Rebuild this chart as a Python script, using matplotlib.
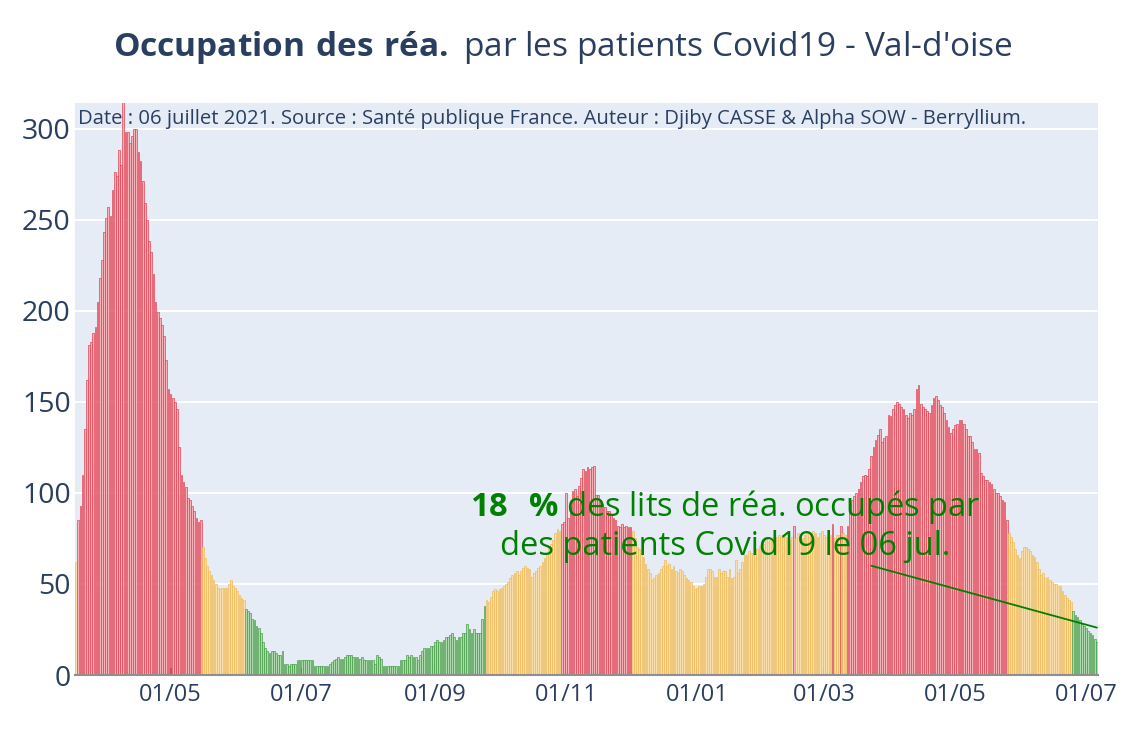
import pandas as pd
import matplotlib.pyplot as plt
import matplotlib.dates as mdates

# daily ICU occupancy, Val-d'Oise, from 18 March 2020 to 06 July 2021
start_date = "2020-03-18"
wave1 = [62, 85, 93, 110, 135, 162, 181, 183, 188, 191,
         205, 218, 228, 243, 251, 257, 252, 266, 276, 274,
         288, 280, 318, 298, 298, 292, 296, 300, 300, 287,
         282, 271, 259, 250, 238, 232, 220, 205, 199, 196,
         192, 186, 173, 157, 154, 152, 150, 146, 125, 110,
         106, 103, 97, 96, 93, 90, 86, 84, 85]
spring2020 = [70, 64, 60, 57, 55, 52, 50, 48, 47, 48, 48, 48, 50, 52, 49, 48, 46, 44, 42, 41]
summer2020 = [36, 35, 34, 31, 30, 27, 26, 23, 18, 15,
              13, 12, 13, 13, 12, 11, 11, 13, 6, 6,
              5, 6, 6, 6, 8, 8, 8, 8, 8, 8,
              8, 8, 5, 5, 5, 5, 5, 5, 5, 6,
              7, 8, 9, 10, 9, 9, 10, 11, 11, 11,
              10, 10, 10, 9, 10, 8, 8, 8, 8, 8,
              6, 11, 10, 9, 5, 5, 5, 5, 5, 5,
              5, 5, 8, 8, 8, 11, 10, 11, 10, 10,
              8, 11, 13, 15, 15, 15, 16, 16, 18, 19,
              18, 18, 19, 21, 21, 22, 23, 21, 19, 21,
              21, 23, 23, 28, 25, 23, 25, 23, 23, 23,
              31, 38]
autumn2020 = [41, 40, 43, 46, 47, 46, 47, 48, 49, 50, 51, 53, 55, 56, 57, 55, 57, 59,
              60, 59, 58, 54, 56, 57, 59, 60, 62, 64, 67, 70, 72, 74, 78, 80, 79]
wave2 = [83, 84, 100, 86, 93, 101, 102, 98, 104, 108, 113, 112, 114, 113, 114, 115, 99,
         99, 96, 94, 92, 90, 90, 88, 86, 85, 82, 81, 83, 81, 82, 81, 81]
winter2020 = [79, 75, 70, 69, 67, 65, 61, 58, 56, 52, 53, 55, 56, 58, 60, 63,
              60, 61, 58, 60, 57, 56, 58, 57, 55, 53, 52, 51, 49, 47, 48, 49]
winter2021 = [49, 50, 54, 58, 58, 57, 54, 54, 58, 56,
              57, 57, 54, 58, 53, 54, 63, 56, 58, 62,
              66, 66, 68, 67, 66, 69, 69, 71, 71, 72,
              75, 73, 74, 76, 76, 76, 77, 76, 77, 76, 75, 74, 76,
              82,
              75, 78, 76, 75, 77, 78, 76, 77, 79, 78, 76, 78, 79, 77, 76, 76, 77,
              83, 75, 77, 77, 82, 78, 77, 82]
wave3 = [94, 96, 98, 100, 102, 106, 109, 110, 109, 113,
         120, 125, 129, 132, 135, 128, 130, 131, 143, 142,
         146, 148, 150, 149, 147, 146, 143, 141, 144, 143,
         146, 157, 159, 149, 147, 146, 145, 144, 148, 152,
         153, 151, 148, 147, 144, 140, 136, 133, 135, 137,
         138, 140, 140, 138, 135, 131, 131, 128, 124, 124,
         122, 111, 109, 107, 107, 106, 105, 102, 100, 100,
         98, 96, 95, 85]
spring2021 = [78, 76, 73, 69, 66, 64, 68, 70, 70, 69, 68, 66, 65, 62, 58, 55, 56, 53,
              54, 52, 51, 50, 50, 49, 49, 46, 44, 42, 41, 40]
summer2021 = [35, 33, 32, 30, 28, 27, 26, 24, 23, 22, 20, 18]

arrow_value = 26
pct_last = 18
tick_dates = ["2020-05-01", "2020-07-01", "2020-09-01", "2020-11-01",
              "2021-01-01", "2021-03-01", "2021-05-01", "2021-07-01"]

values = (wave1 + spring2020 + summer2020 + autumn2020 + wave2 + winter2020
          + winter2021 + wave3 + spring2021 + summer2021)
dates = pd.date_range(start_date, periods=len(values), freq="D")

# colour levels
RED_MIN = 81
GREEN_MAX = 38
fills, edges = [], []
for v in values:
    if v >= RED_MIN:
        fills.append("#f7b3ba"); edges.append("#e03445")
    elif v > GREEN_MAX:
        fills.append("#f9dfae"); edges.append("#f0b64c")
    else:
        fills.append("#afd9af"); edges.append("#3b983b")

plt.rcParams["font.family"] = ["Open Sans", "DejaVu Sans"]
plt.rcParams["mathtext.fontset"] = "custom"
plt.rcParams["mathtext.rm"] = "Open Sans"
plt.rcParams["mathtext.bf"] = "Open Sans:bold"
txt_color = "#2a3f5f"

fig = plt.figure(figsize=(11.25, 7.5), dpi=100)
ax = fig.add_axes([75 / 1125, 75 / 750, 1023 / 1125, 572 / 750])
ax.set_facecolor("#e5ecf6")

ax.bar(dates, values, width=0.8, color=fills, edgecolor=edges, linewidth=0.45, zorder=2)

ax.set_xlim(dates[0] - pd.Timedelta(hours=12), dates[-1] + pd.Timedelta(hours=12))
ax.set_ylim(0, 314)
ax.set_yticks(range(0, 301, 50))
ax.yaxis.grid(True, color="white", linewidth=1.4, zorder=1)
ax.set_axisbelow(True)

ax.set_xticks(pd.to_datetime(tick_dates))
ax.xaxis.set_major_formatter(mdates.DateFormatter("%d/%m"))
ax.tick_params(axis="x", direction="in", length=5, width=1.3, color="#444444",
               labelsize=17, labelcolor=txt_color, pad=6)
ax.tick_params(axis="y", length=0, labelsize=20.5, labelcolor=txt_color, pad=3)
for s in ["top", "right", "left"]:
    ax.spines[s].set_visible(False)
ax.spines["bottom"].set_color("#8f8f8f")
ax.spines["bottom"].set_linewidth(1.5)
ax.spines["bottom"].set_zorder(3)

fig.text(0.5, 1 - 47 / 750, r"$\mathbf{Occupation\ des\ réa.}$ par les patients Covid19 - Val-d'oise",
         ha="center", va="center", fontsize=24, color=txt_color)

ax.text(0.003, 1 - 16 / 572,
        "Date : 06 juillet 2021. Source : Santé publique France. Auteur : Djiby CASSE & Alpha SOW - Berryllium.",
        transform=ax.transAxes, ha="left", va="center", fontsize=14.6, color=txt_color)

label = (r"$\mathbf{" + str(pct_last) + r"\ \ \%}$ des lits de réa. occupés par" + "\n"
         + "des patients Covid19 le 06 jul.")
ax.annotate(label, xy=(dates[-1], arrow_value), xytext=(dates[302], 82),
            ha="center", va="center", fontsize=23.5, color="green", linespacing=1.15,
            arrowprops=dict(arrowstyle="-", color="green", lw=1.3, shrinkA=0, shrinkB=0),
            zorder=5)

fig.savefig("out.png", dpi=100)
